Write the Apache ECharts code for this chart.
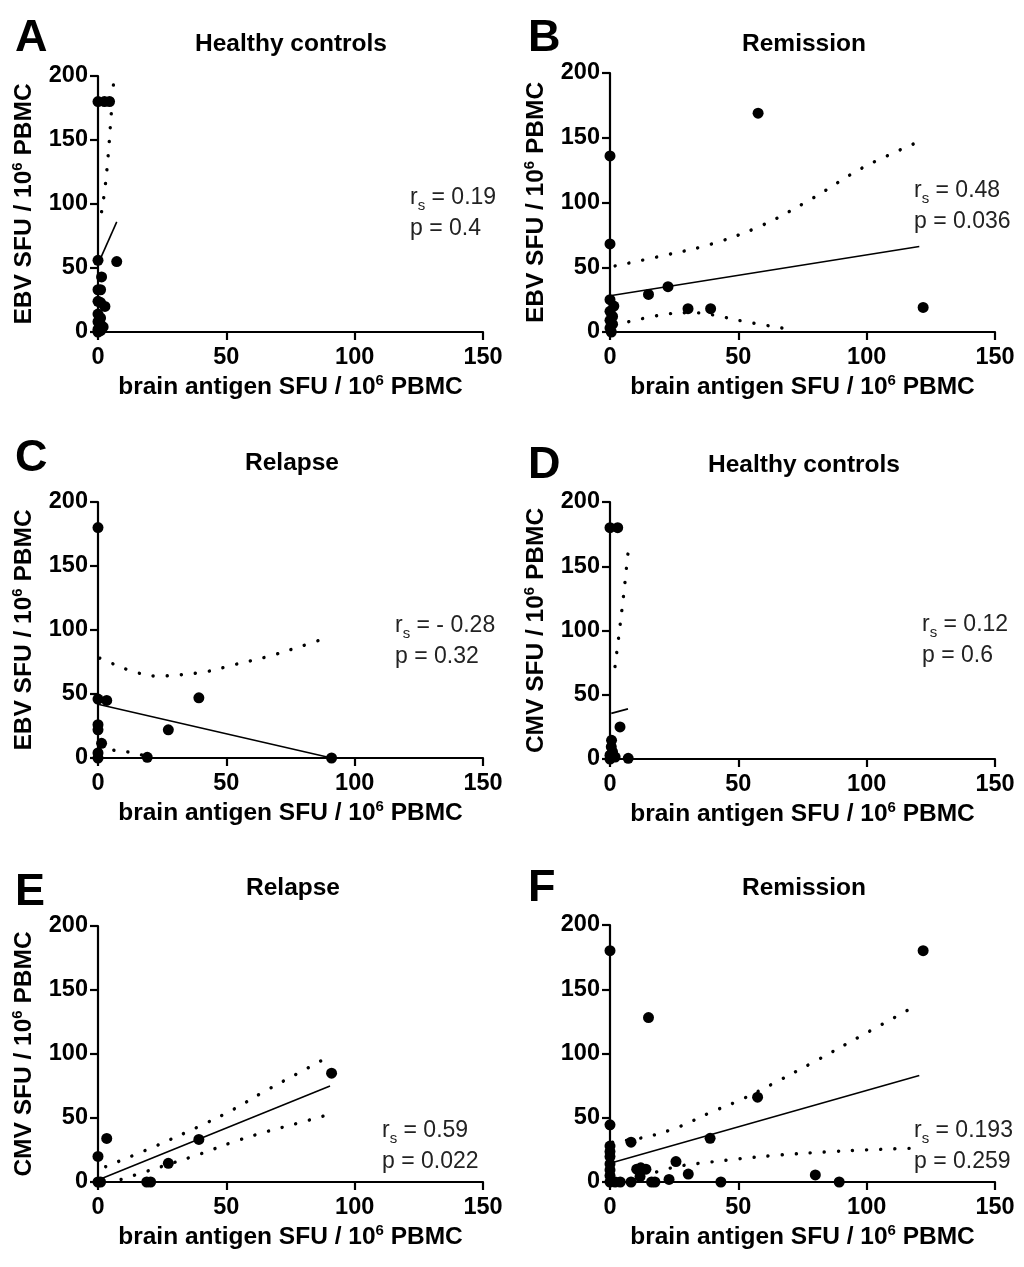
<!DOCTYPE html>
<html><head><meta charset="utf-8">
<script src="https://cdn.jsdelivr.net/npm/echarts@6/dist/echarts.min.js"></script>
<style>html,body{margin:0;padding:0;background:#fff}#c{width:1024px;height:1267px}</style>
</head><body><div id="c"></div>
<script>
// ---------- data ----------
const panelLetters = ['A', 'B', 'C', 'D', 'E', 'F'];
const panelTitles = ['Healthy controls', 'Remission', 'Relapse', 'Healthy controls', 'Relapse', 'Remission'];
const yVirus = ['EBV', 'EBV', 'EBV', 'CMV', 'CMV', ''];
const statR = ['0.19', '0.48', '- 0.28', '0.12', '0.59', '0.193'];
const statP = ['0.4', '0.036', '0.32', '0.6', '0.022', '0.259'];
const xTicks = [0, 50, 100, 150];
const yTicks = [0, 50, 100, 150, 200];

// A: EBV, healthy controls
const aX = [0, 2.5, 4.5, 0, 7.3, 1.4, 0, 1, 0, 1, 2.7, 0, 1, 0, 1, 2, 0, 1, 0];
const aY = [180, 180, 180, 56, 55, 43, 33, 33, 24, 23, 20, 14, 11, 8, 6, 4, 2, 1, 0];
const aFit = [[0, 53], [7.3, 86]];
const aUpper = [[1.4, 94], [2.7, 112], [4.0, 139], [5.0, 166], [6.0, 193]];
const aLower = [];

// B: EBV, remission
const bX = [0, 0, 57.7, 15, 22.6, 30.4, 39.2, 122, 0, 1.5, 0, 1, 0, 1, 0, 0.5];
const bY = [136, 68, 169, 29, 35, 18, 18, 19, 25, 20, 16, 12, 9, 6, 3, 0];
const bFit = [[0, 28], [120.5, 66]];
const bUpper = [[2, 51], [20.3, 58.8], [39.7, 68], [59.2, 82.3], [78.7, 103], [98.2, 126.6], [120.2, 146.9]];
const bLower = [[2, 5.5], [20.3, 13.3], [32, 15], [39.7, 13.3], [52.7, 8], [71.5, 1.6]];

// C: EBV, relapse
const cX = [0, 0, 3.4, 39.3, 27.4, 0, 0, 1.4, 0, 19.2, 91, 0];
const cY = [180, 46, 45, 47, 22, 26, 22, 11.5, 4, 0.5, 0, 0];
const cFit = [[0, 42], [91, 0]];
const cUpper = [[0.7, 78], [4.7, 74.5], [13.8, 67.5], [22.9, 64], [32, 65], [42.3, 67.5], [52.7, 72.7], [65.7, 79], [78.7, 87], [90.4, 94.8]];
const cLower = [[0.7, 7.6], [5, 6.3], [10, 5.2], [15, 3.5], [19, 1]];

// D: CMV, healthy controls
const dX = [0, 3, 3.9, 0.6, 0.5, 1, 0, 2, 7.1, 0];
const dY = [180, 180, 25, 14.5, 9.5, 5.5, 0, 1.5, 0.5, 3];
const dFit = [[0.5, 35.5], [7, 39]];
const dUpper = [[1.95, 72], [3.6, 98.7], [5.2, 126], [7.1, 162]];
const dLower = [];

// E: CMV, relapse
const eX = [0, 3.4, 0, 1, 19, 20.5, 27.4, 39.3, 91];
const eY = [20, 34, 0, 0, 0, 0, 14.6, 33.3, 85];
const eFit = [[0, 1.6], [90.4, 75]];
const eUpper = [[3, 12], [20, 26], [40, 44], [53, 57], [65, 71], [78, 85], [89, 97]];
const eLower = [[9, 2], [20, 9], [27, 13.5], [40, 22], [53, 31.5], [66, 39.5], [78, 46], [88, 51.6]];

// F: CMV, remission
const fX = [0, 122, 15, 57.5, 39, 0, 8.2, 0, 0, 0, 0, 0, 0, 2, 4, 8.2, 10.4, 12, 14, 11.7, 16.2, 17.5, 23, 25.7, 30.5, 43.2, 80, 89.3, 0];
const fY = [180, 180, 128, 66, 34, 44.5, 31, 28, 23.7, 19.8, 9.4, 5, 0, 0, 0, 0, 10, 11, 10, 4.2, 0, 0, 2, 15.9, 6.2, 0, 5.5, 0, 14];
const fFit = [[0, 14.6], [120.5, 82.8]];
const fUpper = [[1, 31], [14, 35], [27, 43], [39, 54], [51, 64], [63, 76], [79, 93], [99, 115], [119, 137]];
const fLower = [[13, 4], [20, 9], [29, 13], [39, 15.5], [50, 18], [66, 21], [85, 23.5], [100, 25], [118, 26.3]];

const panelX = [aX, bX, cX, dX, eX, fX];
const panelY = [aY, bY, cY, dY, eY, fY];
const panelFit = [aFit, bFit, cFit, dFit, eFit, fFit];
const panelUpper = [aUpper, bUpper, cUpper, dUpper, eUpper, fUpper];
const panelLower = [aLower, bLower, cLower, dLower, eLower, fLower];

// ---------- layout ----------
const FONT = "'Liberation Sans', Arial, Helvetica, sans-serif";
const layout = [
  { left: 98,  top: 76,  h: 256, letter: [15, 16],  title: [291, 44],  stat: [410, 186] },
  { left: 610, top: 73,  h: 259, letter: [528, 16], title: [804, 44],  stat: [914, 179] },
  { left: 98,  top: 502, h: 256, letter: [15, 436], title: [292, 463], stat: [395, 614] },
  { left: 610, top: 502, h: 257, letter: [528, 443], title: [804, 465], stat: [922, 613] },
  { left: 98,  top: 926, h: 256, letter: [15, 870], title: [293, 888], stat: [382, 1119] },
  { left: 610, top: 925, h: 257, letter: [528, 866], title: [804, 888], stat: [914, 1119] }
];
const W = 385;

const labelRich = {
  t: { fontSize: 24.5, fontWeight: 'bold', fontFamily: FONT, color: '#000', lineHeight: 28 },
  u: { fontSize: 15, fontWeight: 'bold', fontFamily: FONT, color: '#000', lineHeight: 15, verticalAlign: 'top' }
};

const grids = [], xAxes = [], yAxes = [], series = [], graphics = [];
layout.forEach((L, i) => {
  grids.push({ left: L.left, top: L.top, width: W, height: L.h, containLabel: false });
  const axisCommon = {
    type: 'value', gridIndex: i,
    axisLine: { show: true, onZero: false, lineStyle: { color: '#000', width: 2.2 } },
    axisTick: { show: true, length: 8, lineStyle: { color: '#000', width: 2.2 } },
    splitLine: { show: false },
    axisLabel: { fontSize: 23.5, fontWeight: 'bold', fontFamily: FONT, color: '#000' },
    nameLocation: 'middle'
  };
  xAxes.push(Object.assign({}, axisCommon, {
    min: xTicks[0], max: xTicks[xTicks.length - 1], interval: xTicks[1] - xTicks[0],
    axisLabel: Object.assign({}, axisCommon.axisLabel, { margin: 14 }),
    name: '{t|brain antigen SFU / 10}{u|6}{t| PBMC}',
    nameGap: 41,
    nameTextStyle: { rich: labelRich }
  }));
  yAxes.push(Object.assign({}, axisCommon, {
    min: yTicks[0], max: yTicks[yTicks.length - 1], interval: yTicks[1] - yTicks[0],
    axisLabel: Object.assign({}, axisCommon.axisLabel, { margin: 10 }),
    name: yVirus[i] ? '{t|' + yVirus[i] + ' SFU / 10}{u|6}{t| PBMC}' : '',
    nameGap: 60,
    nameTextStyle: { rich: labelRich }
  }));
  const pts = panelX[i].map((x, k) => [x, panelY[i][k]]);
  series.push({
    type: 'line', xAxisIndex: i, yAxisIndex: i, data: panelFit[i], showSymbol: false,
    lineStyle: { color: '#000', width: 1.6 }, z: 2, silent: true
  });
  [panelUpper[i], panelLower[i]].forEach(band => {
    if (!band.length) return;
    series.push({
      type: 'line', xAxisIndex: i, yAxisIndex: i, data: band, showSymbol: false, smooth: 0.35,
      lineStyle: { color: '#000', width: 3.4, type: [0.1, 14], cap: 'round' }, z: 2, silent: true
    });
  });
  series.push({
    type: 'scatter', xAxisIndex: i, yAxisIndex: i, data: pts, symbolSize: 11,
    itemStyle: { color: '#000', opacity: 1 }, z: 3, silent: true
  });

  graphics.push({
    type: 'text', left: L.letter[0], top: L.letter[1],
    style: { text: panelLetters[i], font: 'bold 45px ' + FONT, fill: '#000' }
  });
  graphics.push({
    type: 'text', x: L.title[0], y: L.title[1],
    style: { text: panelTitles[i], font: 'bold 24.5px ' + FONT, fill: '#000', textAlign: 'center', textVerticalAlign: 'middle' }
  });
  graphics.push({
    type: 'text', left: L.stat[0], top: L.stat[1],
    style: {
      text: '{m|r}{s|s}{m| = ' + statR[i] + '}\n{m|p = ' + statP[i] + '}',
      rich: {
        m: { fontSize: 23, fontFamily: FONT, fill: '#222', lineHeight: 31 },
        s: { fontSize: 15, fontFamily: FONT, fill: '#222', lineHeight: 14, verticalAlign: 'bottom' }
      }
    }
  });
});

const chart = echarts.init(document.getElementById('c'), null, { renderer: 'canvas' });
chart.setOption({
  animation: false,
  backgroundColor: '#fff',
  grid: grids, xAxis: xAxes, yAxis: yAxes, series: series, graphic: graphics
});
</script></body></html>
